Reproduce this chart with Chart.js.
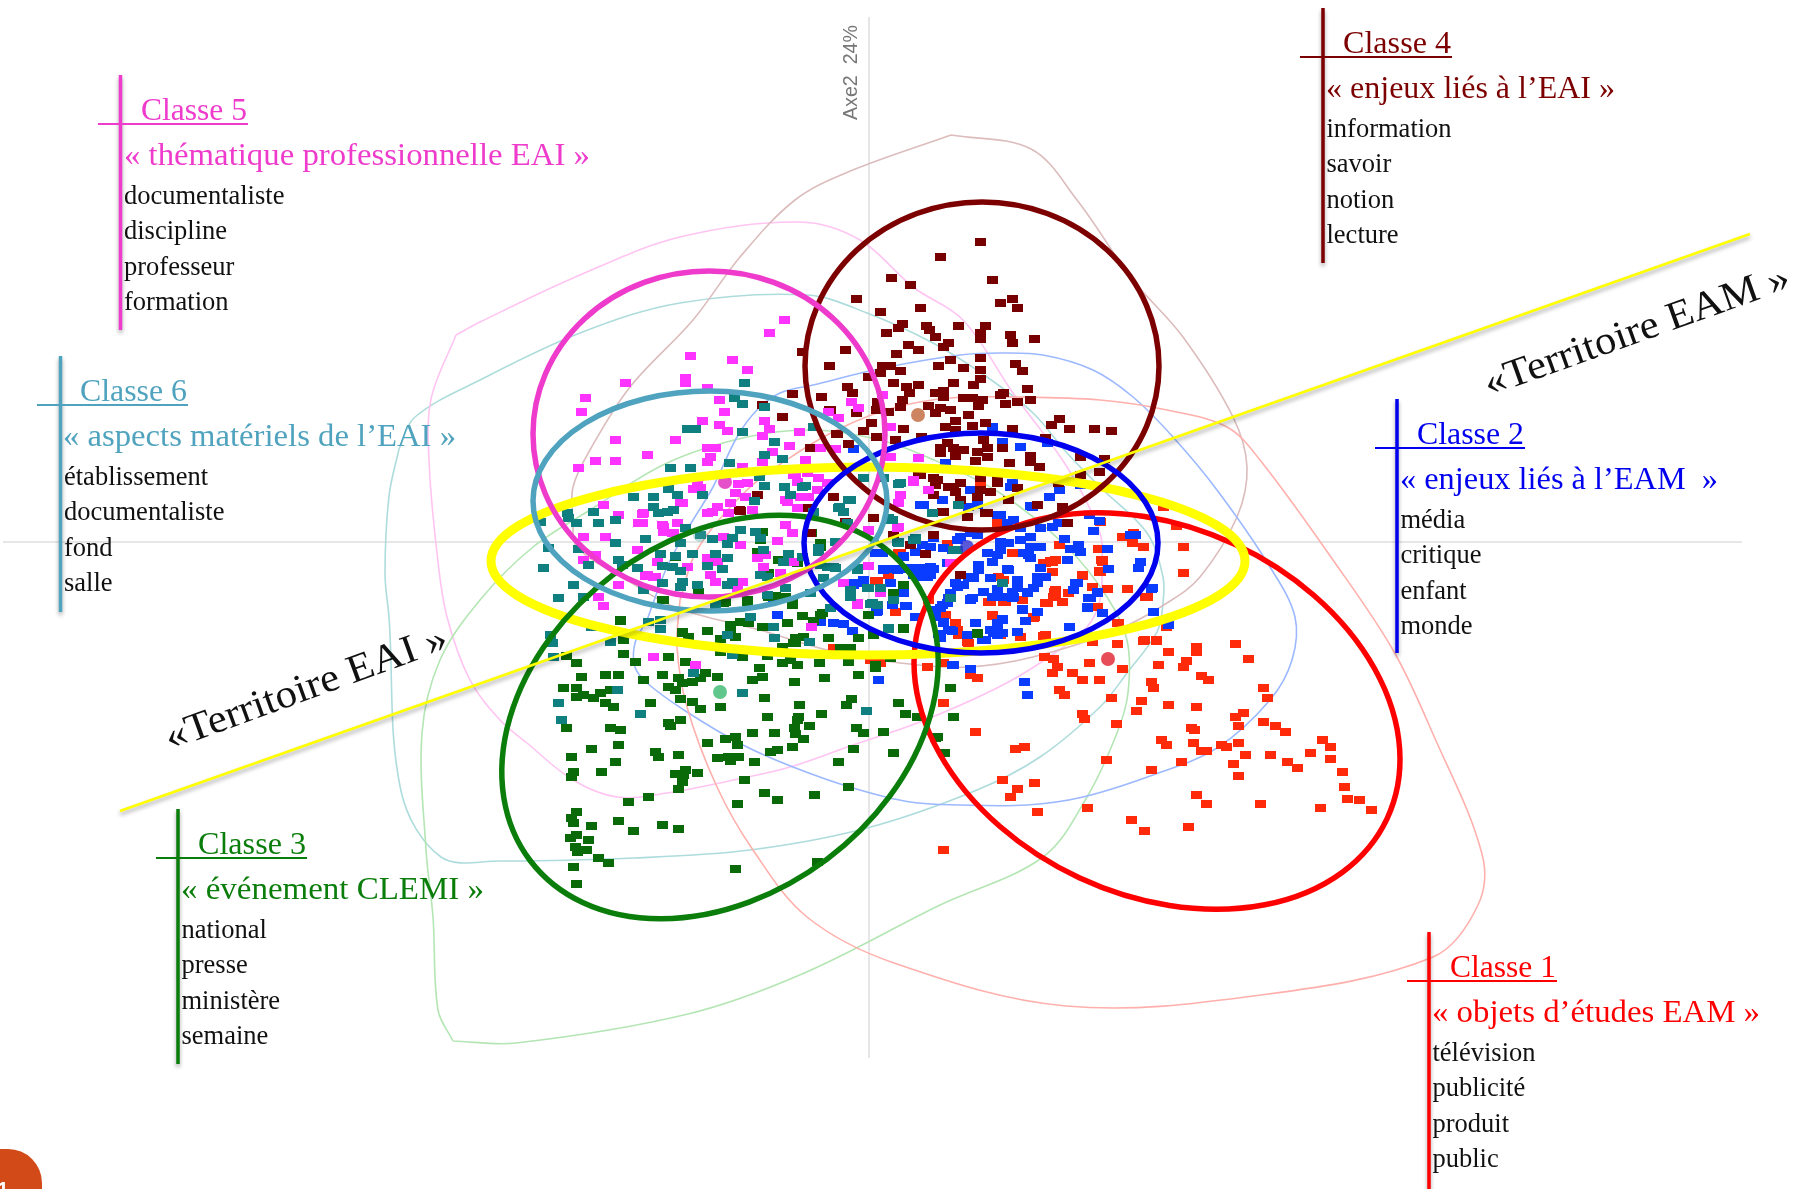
<!DOCTYPE html>
<html lang="fr"><head><meta charset="utf-8">
<style>html,body{margin:0;padding:0;background:#fff;overflow:hidden}canvas{display:block}</style>
<script src="https://cdn.jsdelivr.net/npm/chart.js@4/dist/chart.umd.min.js"></script>
</head><body><canvas id="c" width="1797" height="1189"></canvas>
<script>
// Plane coordinates
const classe1Points=[[1183,573],[1127,589],[1107,589],[1145,597],[1118,623],[1166,627],[1117,644],[1144,640],[1156,640],[1092,642],[1044,636],[1235,644],[1196,647],[1196,652],[1168,652],[1248,659],[1186,661],[1183,667],[1158,665],[1122,669],[1089,663],[1044,657],[1053,659],[1057,667],[1052,673],[1072,673],[1082,680],[1099,680],[1201,676],[1208,680],[1151,682],[1153,688],[1059,690],[1064,695],[1263,688],[1267,698],[1111,698],[1141,701],[1136,711],[1168,705],[1196,707],[1243,713],[1235,717],[1238,726],[1263,722],[1275,726],[1285,732],[1082,714],[1084,719],[1116,724],[1191,728],[1194,730],[1322,740],[1330,747],[1161,740],[1166,745],[1193,743],[1238,743],[1221,745],[1226,747],[1201,751],[1206,751],[1245,755],[1270,755],[1310,753],[1330,759],[1287,762],[1297,768],[1233,764],[1181,762],[1106,760],[1151,770],[1238,776],[1342,772],[1344,787],[1002,780],[1034,783],[1017,789],[1010,797],[1196,795],[1206,804],[1260,804],[1347,799],[1359,800],[1371,810],[1320,808],[1037,812],[1087,808],[1131,820],[1144,831],[1188,827],[943,850],[975,732],[1015,749],[1024,747],[943,703],[927,667],[943,663],[970,675],[977,678],[1052,572],[1082,575],[1099,572],[1092,587],[1054,592],[1054,597],[1045,603],[1062,602],[1022,600],[992,615],[1005,602],[990,602],[955,623],[958,635],[968,643],[1045,635],[1000,635],[1033,618],[1102,562],[1097,607],[1163,507],[1176,526],[1133,533],[1122,537],[1132,543],[1143,547],[1183,547],[1098,549],[1102,560],[1052,562],[1045,563],[1100,572],[1183,573],[1082,576],[1012,553],[1092,587],[1127,589],[1147,597],[1055,590],[1053,597],[1047,603],[877,581],[895,612],[900,553],[980,482],[997,523],[1003,580],[943,618],[1033,617],[870,660],[880,663],[833,648],[998,577],[1003,602],[988,602],[992,616],[945,615],[955,623],[957,630],[895,612],[875,581],[888,575],[928,600],[967,642],[947,544],[898,553],[1100,522],[1123,537],[1059,545],[1050,561],[1043,563],[1055,560],[1101,560],[1099,571],[1068,593],[1055,595],[1034,617],[1117,623],[1043,636],[1020,637],[1000,633],[1146,597],[1143,641],[1156,641]];
const classe2Points=[[992,427],[1002,442],[1020,447],[1047,443],[853,449],[918,458],[945,463],[970,490],[1012,483],[1059,490],[1049,497],[1080,485],[1030,506],[923,505],[942,500],[968,507],[977,505],[1000,515],[1007,523],[1020,528],[1040,528],[1052,527],[1099,521],[1093,531],[1130,535],[1135,535],[1064,539],[1040,547],[1000,542],[1008,543],[1020,540],[1030,537],[1078,545],[1070,549],[1080,552],[1107,549],[1030,547],[1028,555],[1000,550],[997,555],[992,562],[978,565],[978,570],[1067,560],[1140,562],[1138,568],[1108,569],[1040,568],[1007,569],[1037,577],[1045,577],[1037,583],[990,578],[1017,580],[1017,588],[1027,592],[1013,597],[1077,583],[1073,590],[1151,589],[1090,598],[972,598],[992,597],[1003,597],[1087,607],[1102,613],[1153,612],[955,583],[963,585],[973,578],[943,548],[952,550],[930,547],[915,552],[903,557],[883,569],[893,569],[903,569],[913,569],[923,569],[933,569],[913,575],[922,575],[930,575],[947,563],[875,553],[853,583],[863,580],[890,583],[903,593],[970,533],[957,540],[933,538],[922,545],[905,606],[877,611],[947,603],[940,608],[935,617],[915,617],[1022,610],[1037,612],[1152,588],[1097,592],[1088,598],[1075,583],[1073,590],[1153,612],[1168,625],[1069,627],[1087,608],[1022,609],[1025,621],[1002,619],[997,627],[997,635],[990,630],[1017,632],[975,623],[982,640],[938,634],[950,630],[943,622],[915,617],[906,606],[942,605],[935,610],[950,593],[970,599],[983,592],[997,589],[1012,593],[1017,580],[1027,593],[1037,577],[953,665],[970,669],[1024,682],[1027,695],[878,680],[952,665],[777,615],[833,623],[843,624],[852,631],[876,612],[915,617],[820,622],[948,598],[943,623],[952,631],[940,638],[920,505],[882,553],[857,583],[883,570],[897,570],[910,568],[920,568],[930,567],[917,577],[927,577],[853,585],[892,605],[903,556],[960,537],[977,535],[987,553],[1008,570],[968,577],[957,587],[970,600],[1012,598],[943,623],[948,630],[967,635],[985,640],[993,633],[1002,633],[997,623],[1013,520],[1010,487],[973,490],[997,515],[1012,485],[1032,507],[1058,523],[1089,515],[1023,553],[1030,558],[1033,588],[1012,592],[1012,598],[1097,593],[1089,598],[1002,620],[773,598]];
const classe3Points=[[620,621],[730,625],[730,630],[740,622],[748,623],[707,631],[762,627],[787,623],[802,616],[822,613],[813,621],[868,615],[903,629],[682,632],[688,637],[720,639],[735,637],[795,643],[795,638],[803,637],[828,638],[858,638],[623,640],[840,648],[850,648],[782,647],[720,652],[742,657],[767,656],[623,654],[668,657],[566,656],[576,663],[635,662],[685,662],[782,663],[797,665],[790,660],[819,663],[848,662],[875,665],[875,668],[890,658],[759,668],[762,677],[752,680],[581,677],[605,675],[618,675],[662,675],[678,678],[705,673],[700,678],[692,682],[682,683],[717,677],[643,680],[794,682],[824,678],[858,675],[563,688],[576,688],[610,690],[668,687],[675,690],[576,697],[583,695],[593,698],[600,693],[950,688],[680,699],[764,698],[692,702],[700,709],[650,703],[605,703],[613,707],[720,707],[799,705],[851,699],[846,705],[898,703],[767,717],[798,717],[797,720],[821,714],[905,714],[918,717],[953,717],[680,720],[668,723],[670,726],[566,728],[610,728],[620,730],[794,728],[809,726],[856,728],[795,734],[803,739],[863,733],[883,732],[752,733],[774,733],[725,739],[735,737],[737,745],[707,743],[618,745],[591,749],[792,747],[777,750],[770,752],[853,749],[655,752],[658,757],[678,755],[571,757],[893,753],[717,758],[728,757],[738,757],[730,761],[615,762],[754,762],[838,762],[685,770],[675,774],[683,775],[697,773],[573,772],[571,777],[601,772],[744,780],[682,782],[678,789],[764,793],[777,800],[814,795],[848,787],[648,797],[628,802],[737,804],[576,812],[571,818],[573,823],[618,821],[591,826],[662,825],[678,829],[633,831],[576,835],[570,838],[588,840],[575,847],[577,852],[586,850],[598,858],[608,863],[573,867],[735,869],[817,862],[576,884],[935,738],[943,753],[820,547],[620,620],[662,600],[675,557],[698,592],[725,602],[747,602],[768,597],[792,605],[782,597],[820,615],[868,615],[760,533],[820,543],[760,540],[893,593],[903,585],[977,634],[903,628],[903,585],[917,717],[937,737],[944,753],[977,633],[873,635],[762,532],[757,552],[778,560],[797,563],[768,573],[747,600],[792,603],[723,603],[715,605],[663,600],[682,633],[707,631],[785,597],[775,596],[793,643],[811,533]];
const classe4Points=[[980,242],[940,257],[891,278],[910,285],[992,280],[856,299],[1012,299],[1000,303],[1017,308],[920,308],[880,312],[902,324],[898,328],[926,326],[929,330],[958,326],[985,326],[886,333],[935,337],[980,333],[980,339],[1010,335],[1012,343],[1034,339],[948,343],[943,347],[908,345],[918,350],[845,350],[896,354],[980,358],[950,360],[829,366],[1015,364],[1022,371],[938,366],[963,368],[980,370],[882,366],[890,366],[880,373],[900,371],[868,377],[980,379],[973,385],[893,383],[953,383],[918,385],[906,387],[847,387],[852,393],[1027,389],[1003,393],[1000,395],[943,391],[935,393],[943,397],[909,393],[821,397],[902,400],[900,407],[963,398],[972,398],[982,400],[978,406],[1030,400],[1017,402],[1005,404],[928,406],[940,408],[950,410],[935,413],[877,402],[876,410],[888,412],[856,413],[829,410],[968,415],[1059,419],[1051,425],[1069,429],[1094,429],[1111,431],[985,423],[955,421],[945,427],[955,430],[972,426],[1012,429],[871,423],[863,431],[903,429],[876,437],[895,440],[836,434],[921,437],[848,444],[810,448],[947,443],[940,448],[940,453],[953,448],[963,450],[955,456],[983,440],[987,448],[977,452],[987,457],[975,461],[1002,448],[1030,456],[1030,462],[1045,438],[1009,463],[1039,467],[1080,457],[1104,459],[1099,472],[1080,475],[1058,483],[1037,505],[1062,507],[1067,523],[918,475],[933,478],[935,485],[948,487],[960,483],[955,492],[933,495],[980,478],[997,483],[990,492],[977,497],[1017,488],[1008,500],[960,500],[985,513],[943,512],[933,535],[967,517],[802,352],[792,394],[782,417],[830,410],[837,434],[863,431],[868,377],[762,405],[757,495],[740,511],[833,497],[873,518],[845,522],[960,575],[925,554],[910,545],[893,535],[942,512],[987,513],[953,487],[937,480],[920,475],[980,490],[997,480],[739,510],[810,533],[807,508]];
const classe5Points=[[784,320],[769,333],[690,356],[732,360],[747,370],[625,383],[685,378],[685,383],[707,388],[585,398],[581,412],[719,400],[724,412],[702,421],[719,425],[727,431],[764,421],[769,429],[762,436],[799,432],[615,440],[675,440],[707,448],[715,448],[789,446],[772,452],[647,455],[710,457],[707,462],[595,461],[615,461],[578,468],[762,462],[805,460],[742,467],[820,448],[835,449],[828,412],[838,418],[851,402],[858,408],[882,395],[890,427],[918,458],[890,457],[793,475],[807,473],[818,478],[700,488],[693,489],[747,483],[738,484],[735,493],[745,497],[682,503],[603,505],[618,515],[642,514],[638,523],[717,507],[712,512],[707,513],[730,503],[728,513],[752,510],[800,497],[808,497],[785,500],[797,508],[817,490],[913,482],[900,495],[662,525],[663,532],[672,533],[677,523],[583,537],[605,537],[777,541],[785,525],[792,533],[740,545],[723,537],[637,550],[595,555],[583,560],[657,562],[707,558],[717,562],[757,558],[765,555],[687,567],[793,562],[647,575],[655,577],[618,585],[710,575],[715,582],[742,582],[737,588],[780,573],[868,566],[598,597],[603,606],[868,530],[897,528],[857,605],[843,583],[827,483],[653,657],[695,665],[811,627],[857,603],[913,480],[928,490],[900,495],[898,503],[868,531],[898,527],[950,563],[880,593],[680,503],[643,513],[642,523],[663,527],[673,533],[697,485],[797,482],[795,474],[787,502],[803,497],[763,567],[645,576],[653,577]];
const classe6Points=[[744,383],[734,398],[742,404],[764,407],[687,429],[695,429],[742,432],[774,442],[764,455],[782,459],[729,463],[670,468],[690,468],[759,477],[764,486],[668,489],[677,495],[702,495],[633,497],[653,497],[784,487],[790,495],[805,486],[754,501],[653,507],[658,513],[667,512],[673,510],[567,513],[568,518],[593,512],[576,523],[598,523],[615,520],[540,522],[685,528],[740,530],[755,532],[615,543],[645,539],[548,548],[578,549],[700,535],[712,539],[727,544],[680,543],[660,554],[692,554],[715,554],[763,550],[788,554],[727,558],[618,560],[622,565],[588,565],[543,568],[637,568],[662,566],[672,567],[680,571],[707,566],[722,569],[783,562],[760,575],[767,577],[682,582],[680,587],[662,583],[697,585],[732,582],[727,585],[573,585],[558,598],[583,597],[643,590],[767,595],[785,588],[802,557],[813,427],[839,507],[850,500],[863,478],[883,478],[900,483],[813,512],[835,542],[818,548],[847,523],[890,520],[897,542],[913,540],[833,567],[820,565],[857,570],[715,605],[848,500],[838,508],[898,484],[958,505],[932,513],[888,518],[915,540],[898,542],[868,588],[880,588],[850,590],[957,550],[1002,583],[850,597],[872,603],[850,593],[867,588],[877,605],[893,600],[750,617],[727,635],[773,627],[774,638],[809,642],[830,608],[888,629],[550,635],[552,643],[591,627],[610,642],[553,657],[660,629],[660,620],[648,622],[732,655],[693,673],[617,690],[558,703],[640,714],[561,720],[742,693],[866,711],[953,550],[950,598],[915,538],[898,543],[870,604],[888,628],[932,513],[843,512],[892,520],[835,568],[857,568],[823,578],[675,556],[732,538],[760,538],[818,552],[827,567],[810,593],[802,487]];
const centroidPoints=[[1108,659],[967,547],[720,692],[918,415],[725,482],[700,535]];
// Class outlines
const contourClasse1=[[680,600],[677,647],[687,707],[717,787],[753,850],[807,917],[894,963],[1066,1006],[1261,995],[1433,957],[1478,905],[1482,854],[1433,734],[1393,650],[1333,560],[1260,460],[1227,427],[1167,410],[1100,400],[1017,397],[950,398],[893,408],[843,427],[797,453],[747,490],[697,550],[680,600]];
const contourClasse2=[[647,620],[635,643],[635,667],[647,683],[687,712],[743,745],[793,767],[853,788],[910,802],[960,805],[1027,805],[1083,797],[1153,775],[1217,748],[1270,700],[1292,660],[1295,617],[1270,567],[1217,490],[1173,437],[1133,397],[1093,370],[1043,355],[1000,353],[960,355],[883,368],[813,385],[780,393],[757,410],[737,437],[713,487],[687,530],[667,567],[647,620]];
const contourClasse3=[[453,1041],[516,1043],[688,1014],[802,974],[940,905],[1043,857],[1087,797],[1117,733],[1128,693],[1127,640],[1107,597],[1067,547],[1000,493],[927,457],[880,440],[813,430],[747,437],[667,463],[590,510],[533,547],[480,600],[440,660],[422,733],[426,850],[433,917],[438,1010],[453,1041]];
const contourClasse4=[[951,135],[1031,149],[1077,200],[1133,280],[1183,337],[1233,417],[1247,467],[1237,517],[1200,577],[1167,603],[1117,630],[1033,657],[967,667],[900,663],[827,650],[760,630],[677,608],[627,580],[577,547],[573,520],[573,487],[590,450],[630,387],[693,320],[740,257],[795,200],[848,172],[951,135]];
const contourClasse5=[[456,335],[431,399],[429,460],[437,553],[447,617],[470,680],[500,720],[527,743],[573,780],[617,797],[667,793],[743,778],[790,767],[853,745],[920,722],[993,690],[1040,663],[1087,627],[1100,600],[1102,567],[1100,533],[1067,467],[1013,393],[963,320],[913,287],[860,240],[800,222],[680,237],[580,275],[480,322],[456,335]];
const contourClasse6=[[399,449],[389,496],[385,574],[389,617],[401,791],[441,857],[500,861],[633,858],[750,850],[867,828],[977,790],[1040,757],[1100,707],[1127,673],[1157,632],[1163,603],[1163,577],[1147,533],[1100,487],[1067,453],[1033,413],[987,377],[933,343],[867,313],[807,295],[680,303],[580,333],[480,380],[415,417],[399,449]];
const axeHorizontal=[[3,542],[1742,542]];
const axeVertical=[[869,17],[869,1058]];
const droiteTerritoires=[[120,811],[1750,234]];
// Hand-drawn ellipses: centre x, centre y, radius x, radius y, tilt in degrees
const ellipseClasse1=[1157,711,254,184,25];
const ellipseJaune=[868,561,377,94,0];
const ellipseClasse4=[982,366,177,164,0];
const ellipseClasse3=[720,717,238,178,-37];
const ellipseClasse2=[981,543,177,110,0];
const ellipseClasse5=[709,434,176,163,0];
const ellipseClasse6=[710,501,177,110,0];
// Text
const titres=["Classe 1","Classe 2","Classe 3","Classe 4","Classe 5","Classe 6"];
const themes=["« objets d’études EAM »","« enjeux liés à l’EAM  »","« événement CLEMI »","« enjeux liés à l’EAI »","« thématique professionnelle EAI »","« aspects matériels de l’EAI »"];
const motsClasse1=["télévision","publicité","produit","public"];
const motsClasse2=["média","critique","enfant","monde"];
const motsClasse3=["national","presse","ministère","semaine"];
const motsClasse4=["information","savoir","notion","lecture"];
const motsClasse5=["documentaliste","discipline","professeur","formation"];
const motsClasse6=["établissement","documentaliste","fond","salle"];
const territoires=["«Territoire EAI »","«Territoire EAM »"];

const C={c1:'#ff0000',c2:'#0000ee',c3:'#0a7d0a',c4:'#7c0000',c5:'#ee3bcc',c6:'#4fa3be',y:'#ffff00'};
const toXY=a=>a.map(p=>({x:p[0],y:p[1]}));
function square(col){const k=document.createElement('canvas');k.width=11;k.height=8;const g=k.getContext('2d');g.fillStyle=col;g.fillRect(0,0,11,8);return k;}
const cloud=(label,pts,col,order)=>({type:'scatter',label,data:toXY(pts),pointStyle:square(col),pointRadius:5,showLine:false,order});
const hull=(label,pts,col)=>({type:'line',label,data:toXY(pts),borderColor:col,borderWidth:1.6,pointRadius:0,tension:0.35,fill:false,order:20});
const thin=(label,pts)=>({type:'line',label,data:toXY(pts),borderColor:'#e6e6e6',borderWidth:2,pointRadius:0,order:30});

const blocks=[
 {vx:1429,top:932,end:1189,col:C.c1,tx:1450,tw:106,ux:1407,sx:1432,sw:328,m:motsClasse1,i:0},
 {vx:1397,top:399,end:653,col:C.c2,tx:1417,tw:107,ux:1375,sx:1400,sw:318,m:motsClasse2,i:1},
 {vx:178,top:809,end:1064,col:C.c3,tx:198,tw:108,ux:156,sx:181,sw:303,m:motsClasse3,i:2},
 {vx:1323,top:8,end:263,col:C.c4,tx:1343,tw:108,ux:1300,sx:1326,sw:289,m:motsClasse4,i:3},
 {vx:120.5,top:75,end:330,col:C.c5,tx:141,tw:106,ux:98,sx:124,sw:466,m:motsClasse5,i:4},
 {vx:60.5,top:356,end:612,col:C.c6,tx:80,tw:107,ux:37,sx:63,sw:393,m:motsClasse6,i:5}];

const overlay={id:'overlay',afterDatasetsDraw(ch){
 const g=ch.ctx,X=ch.scales.x,Y=ch.scales.y,px=v=>X.getPixelForValue(v),py=v=>Y.getPixelForValue(v);
 const ell=(e,col,w)=>{g.beginPath();g.ellipse(px(e[0]),py(e[1]),e[2],e[3],e[4]*Math.PI/180,0,Math.PI*2);g.strokeStyle=col;g.lineWidth=w;g.stroke();};
 ell(ellipseClasse1,C.c1,5.5);ell(ellipseJaune,C.y,9);ell(ellipseClasse4,C.c4,5.5);ell(ellipseClasse3,C.c3,5.5);ell(ellipseClasse2,C.c2,5.5);ell(ellipseClasse5,C.c5,5.5);ell(ellipseClasse6,C.c6,5.5);
 const shadowOn=()=>{g.shadowColor='rgba(0,0,0,.35)';g.shadowBlur=4;g.shadowOffsetX=0;g.shadowOffsetY=3;};
 g.save();shadowOn();g.beginPath();g.moveTo(px(droiteTerritoires[0][0]),py(droiteTerritoires[0][1]));g.lineTo(px(droiteTerritoires[1][0]),py(droiteTerritoires[1][1]));g.strokeStyle=C.y;g.lineWidth=2.5;g.stroke();g.restore();
 const fit=(s,x,y,w,font,col)=>{g.save();g.font=font;g.fillStyle=col;g.textBaseline='alphabetic';g.textAlign='left';const m=g.measureText(s).width;g.translate(x,y);g.scale(w/m,1);g.fillText(s,0,0);g.restore();};
 const serif='"Liberation Serif",serif';
 blocks.forEach(b=>{
  g.save();shadowOn();g.fillStyle=b.col;g.fillRect(px(b.vx)-1.75,py(b.top),3.5,b.end-b.top);g.restore();
  g.fillStyle=b.col;g.fillRect(px(b.ux),py(b.top)+48,b.tx+b.tw+1-b.ux,2);
  fit(titres[b.i],b.tx,b.top+45,b.tw,'32px '+serif,b.col);
  fit(themes[b.i],b.sx,b.top+90,b.sw,'31px '+serif,b.col);
  g.font='26.5px '+serif;g.fillStyle='#111';g.textAlign='left';
  [128.5,164,199.5,235].forEach((d,k)=>g.fillText(b.m[k],b.vx+3.5,b.top+d));
 });
 const rot=(s,x,y,deg,w,font,col)=>{g.save();g.translate(x,y);g.rotate(deg*Math.PI/180);fit(s,0,0,w,font,col);g.restore();};
 rot(territoires[0],170,750,-20,298,'40px '+serif,'#111');
 rot(territoires[1],1489,396,-19.7,322,'40px '+serif,'#111');
 rot("Axe2  24%",857,120,-90,95,'20px "Liberation Sans",sans-serif','#777');
 g.beginPath();g.roundRect(-50,1149,92,90,34);g.fillStyle='#d24a17';g.fill();
 g.font='32px "Liberation Sans",sans-serif';g.fillStyle='#fff';g.fillText("1",-6,1204);
}};

new Chart(document.getElementById('c'),{
 data:{datasets:[
  thin('Axe 1',axeHorizontal),thin('Axe 2',axeVertical),
  hull('Contour classe 1',contourClasse1,'#ffb0ac'),hull('Contour classe 2',contourClasse2,'#9cb8ff'),hull('Contour classe 3',contourClasse3,'#b4e6b4'),hull('Contour classe 4',contourClasse4,'#dcbcbc'),hull('Contour classe 5',contourClasse5,'#ffc4f2'),hull('Contour classe 6',contourClasse6,'#aedcdc'),
  cloud('Classe 1',classe1Points,'#ff2a0a',10),cloud('Classe 2',classe2Points,'#0a3cff',9),cloud('Classe 3',classe3Points,'#0a6a0a',8),cloud('Classe 4',classe4Points,'#760000',7),cloud('Classe 5',classe5Points,'#ff33ff',6),cloud('Classe 6',classe6Points,'#0f7f7f',5),
  {type:'scatter',label:'Centres',data:toXY(centroidPoints),pointStyle:'circle',pointRadius:7,pointBackgroundColor:['rgba(224,32,48,.8)','rgba(48,48,208,.8)','rgba(80,192,128,.9)','rgba(200,120,80,.9)','rgba(224,48,192,.85)','rgba(80,160,160,.35)'],pointBorderWidth:0,order:1}
 ]},
 options:{responsive:false,animation:false,layout:{padding:0,autoPadding:false},
  plugins:{legend:{display:false},tooltip:{enabled:false},title:{display:false}},
  scales:{x:{type:'linear',min:0,max:1797,display:false},y:{type:'linear',min:0,max:1189,reverse:true,display:false}}},
 plugins:[overlay]
});
</script></body></html>
